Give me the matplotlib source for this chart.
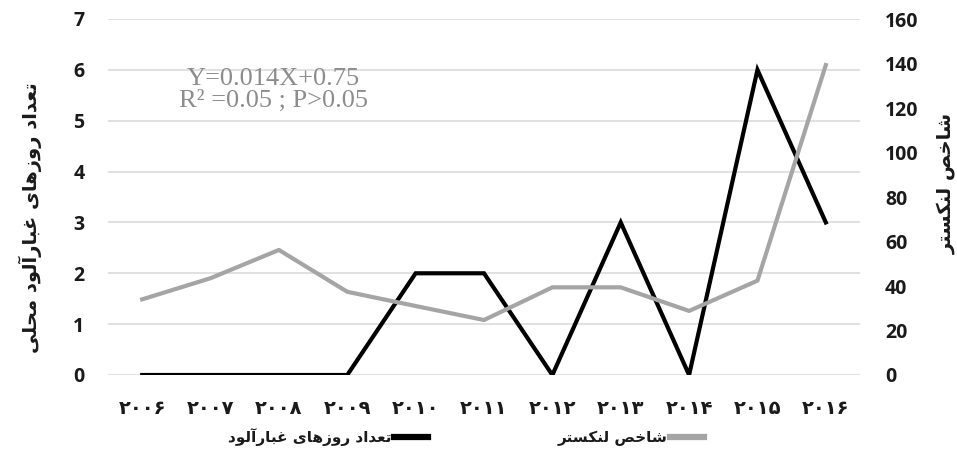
import matplotlib
matplotlib.use("Agg")
import matplotlib.pyplot as plt
from matplotlib.lines import Line2D

# ---------------- data ----------------
years = ["۲۰۰۶", "۲۰۰۷", "۲۰۰۸", "۲۰۰۹", "۲۰۱۰", "۲۰۱۱", "۲۰۱۲", "۲۰۱۳", "۲۰۱۴", "۲۰۱۵", "۲۰۱۶"]
dust_days = [0, 0, 0, 0, 2, 2, 0, 3, 0, 6, 3]
lancaster = [34.0, 43.5, 56.2, 37.4, 31.0, 24.7, 39.4, 39.4, 28.8, 42.4, 139.3]
left_ticks = [0, 1, 2, 3, 4, 5, 6, 7]
right_ticks = [0, 20, 40, 60, 80, 100, 120, 140, 160]
label_left = "تعداد روزهای غبارآلود محلی"
label_right = "شاخص لنکستر"
legend_dust = "تعداد روزهای غبارآلود"
legend_lanc = "شاخص لنکستر"
eq_line1 = "Y=0.014X+0.75"
eq_line2 = "R² =0.05 ; P>0.05"

# ---------------- simple Arabic/Persian shaping ----------------
FORMS = {
    # iso, fin, ini, med
    "ا": ("\uFE8D", "\uFE8E", None, None),
    "آ": ("\uFE81", "\uFE82", None, None),
    "ب": ("\uFE8F", "\uFE90", "\uFE91", "\uFE92"),
    "ت": ("\uFE95", "\uFE96", "\uFE97", "\uFE98"),
    "ح": ("\uFEA1", "\uFEA2", "\uFEA3", "\uFEA4"),
    "خ": ("\uFEA5", "\uFEA6", "\uFEA7", "\uFEA8"),
    "د": ("\uFEA9", "\uFEAA", None, None),
    "ر": ("\uFEAD", "\uFEAE", None, None),
    "ز": ("\uFEAF", "\uFEB0", None, None),
    "س": ("\uFEB1", "\uFEB2", "\uFEB3", "\uFEB4"),
    "ش": ("\uFEB5", "\uFEB6", "\uFEB7", "\uFEB8"),
    "ص": ("\uFEB9", "\uFEBA", "\uFEBB", "\uFEBC"),
    "ع": ("\uFEC9", "\uFECA", "\uFECB", "\uFECC"),
    "غ": ("\uFECD", "\uFECE", "\uFECF", "\uFED0"),
    "ل": ("\uFEDD", "\uFEDE", "\uFEDF", "\uFEE0"),
    "م": ("\uFEE1", "\uFEE2", "\uFEE3", "\uFEE4"),
    "ن": ("\uFEE5", "\uFEE6", "\uFEE7", "\uFEE8"),
    "ه": ("\uFEE9", "\uFEEA", "\uFEEB", "\uFEEC"),
    "و": ("\uFEED", "\uFEEE", None, None),
    "ک": ("\uFB8E", "\uFB8F", "\uFB90", "\uFB91"),
    "ی": ("\uFBFC", "\uFBFD", "\uFBFE", "\uFBFF"),
}


def shape(s):
    out = []
    n = len(s)
    for i, ch in enumerate(s):
        if ch not in FORMS:
            out.append(ch)
            continue
        prev = s[i - 1] if i > 0 else None
        nxt = s[i + 1] if i < n - 1 else None
        join_prev = prev in FORMS and FORMS[prev][2] is not None
        join_next = nxt in FORMS and FORMS[ch][2] is not None
        iso, fin, ini, med = FORMS[ch]
        if join_prev and join_next:
            out.append(med)
        elif join_prev:
            out.append(fin)
        elif join_next:
            out.append(ini)
        else:
            out.append(iso)
    return "".join(out)[::-1]


# ---------------- figure ----------------
W, H = 957, 474
fig = plt.figure(figsize=(W / 100, H / 100), dpi=100)
ax = fig.add_axes([108 / W, 1 - 375 / H, (860 - 108) / W, (375 - 19) / H])
ax2 = ax.twinx()

x = list(range(len(years)))
ax.plot(x, dust_days, color="black", lw=3.0, solid_joinstyle="miter", zorder=3)
ax2.plot(x, lancaster, color="#A5A5A5", lw=3.0, solid_joinstyle="round", zorder=3)

ax.set_xlim(-0.5, len(years) - 0.5)
ax.set_ylim(0, 7)
ax2.set_ylim(0, 160)
ax.set_yticks(left_ticks)
ax2.set_yticks(right_ticks)
ax.set_xticks(x)

num_font = dict(family="Open Sans", weight="bold", size=14)
ax.set_yticklabels([str(v) for v in left_ticks], fontdict=num_font, color="#1a1a1a")
ax2.set_yticklabels([str(v) for v in right_ticks], fontdict=num_font, color="#1a1a1a")
ax.set_xticklabels(years, family="DejaVu Sans", weight="bold", size=14, color="#1a1a1a")

ax.tick_params(axis="y", length=0, pad=17)
ax2.tick_params(axis="y", length=0, pad=18)
ax.tick_params(axis="x", length=0, pad=17)

ax.grid(axis="y", color="#D9D9D9", lw=1.1)
ax.set_axisbelow(True)
for a in (ax, ax2):
    for sp in a.spines.values():
        sp.set_visible(False)

# axis titles
fig.text(30 / W, 1 - 218 / H, shape(label_left), rotation=90, ha="center", va="center",
         family="DejaVu Sans", weight="bold", size=14, color="#1a1a1a")
fig.text(946 / W, 1 - 183 / H, shape(label_right), rotation=90, ha="center", va="center",
         family="DejaVu Sans", weight="bold", size=14, color="#1a1a1a")

# regression annotation
ax.text(0.22, 0.80, eq_line1 + "\n" + eq_line2, transform=ax.transAxes, ha="center", va="center",
        family="Liberation Serif", size=19, color="#8C8C8C", linespacing=1.0)

# legend
handles = [Line2D([], [], color="black", lw=4.5), Line2D([], [], color="#A5A5A5", lw=4.5)]
leg = fig.legend(handles, [shape(legend_dust), shape(legend_lanc)], loc="center",
                 bbox_to_anchor=(466 / W, 1 - 437 / H), ncol=2, frameon=False,
                 markerfirst=False, handlelength=2.2, handletextpad=0.15, columnspacing=8.5,
                 prop=dict(family="DejaVu Sans", weight="bold", size=11))
for t in leg.get_texts():
    t.set_color("#1a1a1a")

fig.savefig("out.png", dpi=100)
